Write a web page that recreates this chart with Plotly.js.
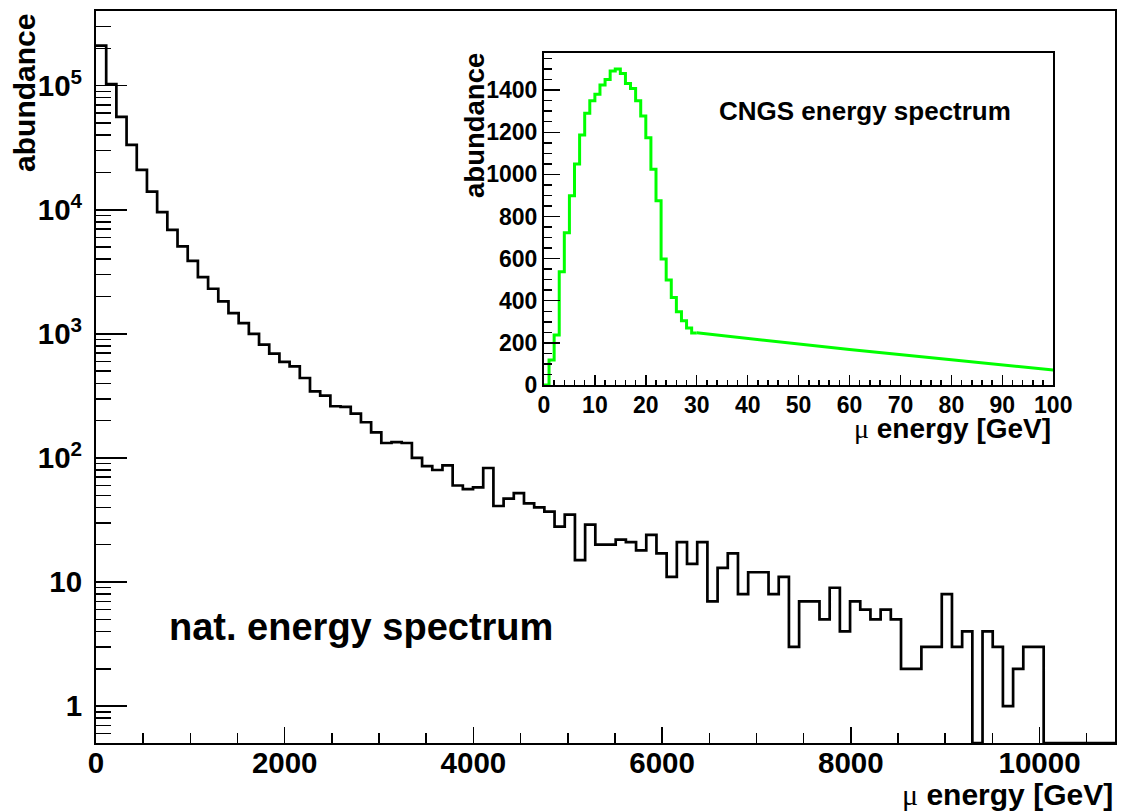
<!DOCTYPE html>
<html>
<head>
<meta charset="utf-8">
<script src="https://cdn.plot.ly/plotly-3.0.1.min.js"></script>
<style>html,body{margin:0;padding:0;background:#fff;}</style>
</head>
<body>
<div id="chart" style="width:1121px;height:812px;"></div>
<script>
// ---- natural muon energy spectrum (main, log y), 100 bins from 0 to 10800 GeV ----
const natBinLow = 0;
const natBinHigh = 10800;
const natCounts = [
  210000, 103000, 56000, 33300, 21000, 14000, 9570, 6900, 5070, 3880,
  2870, 2310, 1830, 1470, 1220, 1000, 818, 693, 594, 547,
  441, 344, 318, 261, 258, 228, 194, 161, 132, 134,
  132, 100, 86, 80, 87, 60, 56, 58, 83, 41,
  47, 52, 43, 40, 37, 28, 35, 15, 29, 20,
  20, 22, 21, 18, 24, 17, 11, 21, 14, 21,
  7, 13, 17, 8, 12, 12, 8, 11, 3, 7,
  7, 5, 9, 4, 7, 6, 5, 6, 5, 2,
  2, 3, 3, 8, 3, 4, 0, 4, 3, 1,
  2, 3, 3, 0, 0, 0, 0, 0, 0, 0
];
const natXTicks = [0, 2000, 4000, 6000, 8000, 10000];
const natYTicks = [1, 10, 100, 1000, 10000, 100000];
const natYTickText = ['1', '10', '10<sup>2</sup>', '10<sup>3</sup>', '10<sup>4</sup>', '10<sup>5</sup>'];

// ---- CNGS energy spectrum (inset), 1 GeV bins from 0 to 30 GeV, then a falling tail ----
const cngsBinLow = 0;
const cngsBinWidth = 1;
const cngsCounts = [
  0, 119, 237, 538, 723, 899, 1049, 1187, 1290, 1350,
  1381, 1424, 1451, 1491, 1500, 1479, 1432, 1408, 1350, 1277,
  1174, 1024, 875, 598, 498, 416, 348, 305, 270, 247
];
const cngsTailEnergy = [30, 40, 60, 80, 100];
const cngsTailCounts = [248, 222, 168, 120, 71];

// ---- build step outlines ----
const natRangeLog = [-0.297, 5.602];
const natFloor = Math.pow(10, natRangeLog[0]);
const natWidth = (natBinHigh - natBinLow) / natCounts.length;
const natX = natCounts.map((c, i) => natBinLow + i * natWidth).concat([natBinHigh]);
const natYplot = natCounts.map(c => (c > 0 ? c : natFloor));
const natY = natYplot.concat([natYplot[natYplot.length - 1]]);

const cngsX = cngsCounts.map((c, i) => cngsBinLow + i * cngsBinWidth)
  .concat([cngsBinLow + cngsCounts.length * cngsBinWidth]);
const cngsY = cngsCounts.concat([cngsCounts[cngsCounts.length - 1]]);

const FONT = 'Liberation Sans, Arial, Helvetica, sans-serif';
const MU = '<span style="font-family:Liberation Serif;font-weight:normal">μ</span>';

const traces = [
  {x: natX, y: natY, type: 'scatter', mode: 'lines', line: {shape: 'hv', color: '#000', width: 2.7},
   xaxis: 'x', yaxis: 'y', hoverinfo: 'skip', cliponaxis: true},
  {x: cngsX, y: cngsY, type: 'scatter', mode: 'lines', line: {shape: 'hv', color: '#00ff00', width: 3},
   xaxis: 'x2', yaxis: 'y2', hoverinfo: 'skip'},
  {x: cngsTailEnergy, y: cngsTailCounts, type: 'scatter', mode: 'lines', line: {color: '#00ff00', width: 3},
   xaxis: 'x2', yaxis: 'y2', hoverinfo: 'skip'}
];

const tickCommon = {ticks: 'inside', tickcolor: '#000', tickwidth: 1.5, showline: true, linecolor: '#000',
  linewidth: 2, mirror: true, showgrid: false, zeroline: false};

const layout = {
  width: 1121, height: 812,
  margin: {l: 96, r: 6, t: 11, b: 69, pad: 0},
  paper_bgcolor: '#fff', plot_bgcolor: '#fff',
  showlegend: false,
  font: {family: FONT, color: '#000'},
  xaxis: Object.assign({}, tickCommon, {
    domain: [0, 1], anchor: 'y', range: [natBinLow, natBinHigh],
    tickmode: 'array', tickvals: natXTicks, ticktext: natXTicks.map(String), ticklen: 16,
    minor: {tickmode: 'linear', tick0: 0, dtick: 500, ticks: 'inside', ticklen: 10, tickwidth: 1.5, tickcolor: '#000', showgrid: false},
    tickfont: {family: FONT, size: 29.5, weight: 'bold', color: '#000'}, ticklabelstandoff: -7
  }),
  yaxis: Object.assign({}, tickCommon, {
    domain: [0, 1], anchor: 'x', type: 'log', range: natRangeLog,
    tickmode: 'array', tickvals: natYTicks, ticktext: natYTickText, ticklen: 31,
    minor: {dtick: 'D1', ticks: 'inside', ticklen: 15, tickwidth: 1.5, tickcolor: '#000', showgrid: false},
    tickfont: {family: FONT, size: 29.5, weight: 'bold', color: '#000'}, ticklabelstandoff: 6
  }),
  xaxis2: Object.assign({}, tickCommon, {
    domain: [0.4396, 0.9394], anchor: 'y2', range: [0, 100],
    tickmode: 'linear', tick0: 0, dtick: 10, ticklen: 10,
    minor: {tickmode: 'linear', tick0: 0, dtick: 2, ticks: 'inside', ticklen: 5, tickwidth: 1.5, tickcolor: '#000', showgrid: false},
    tickfont: {family: FONT, size: 23, weight: 'bold', color: '#000'}, ticklabelstandoff: -2
  }),
  yaxis2: Object.assign({}, tickCommon, {
    domain: [0.4891, 0.9422], anchor: 'x2', range: [0, 1575],
    tickmode: 'linear', tick0: 0, dtick: 200, ticklen: 16,
    minor: {tickmode: 'linear', tick0: 0, dtick: 50, ticks: 'inside', ticklen: 8, tickwidth: 1.5, tickcolor: '#000', showgrid: false},
    tickfont: {family: FONT, size: 23, weight: 'bold', color: '#000'}, ticklabelstandoff: 0
  }),
  annotations: [
    {text: MU + ' energy [GeV]', xref: 'paper', yref: 'paper', x: 1.0, y: -0.0697, xanchor: 'right', yanchor: 'middle',
     showarrow: false, font: {family: FONT, size: 30, weight: 'bold', color: '#000'}},
    {text: 'abundance', xref: 'paper', yref: 'paper', x: -0.0697, y: 0.888, xanchor: 'center', yanchor: 'middle',
     textangle: -90, showarrow: false, font: {family: FONT, size: 30, weight: 'bold', color: '#000'}},
    {text: 'nat. energy spectrum', xref: 'paper', yref: 'paper', x: 0.0697, y: 0.1585, xanchor: 'left', yanchor: 'middle',
     showarrow: false, font: {family: FONT, size: 38, weight: 'bold', color: '#000'}},
    {text: 'CNGS energy spectrum', xref: 'paper', yref: 'paper', x: 0.7547, y: 0.8634, xanchor: 'center', yanchor: 'middle',
     showarrow: false, font: {family: FONT, size: 26, weight: 'bold', color: '#000'}},
    {text: MU + ' energy [GeV]', xref: 'paper', yref: 'paper', x: 0.9394, y: 0.429, xanchor: 'right', yanchor: 'middle',
     showarrow: false, font: {family: FONT, size: 28, weight: 'bold', color: '#000'}},
    {text: 'abundance', xref: 'paper', yref: 'paper', x: 0.3719, y: 0.8443, xanchor: 'center', yanchor: 'middle',
     textangle: -90, showarrow: false, font: {family: FONT, size: 27.5, weight: 'bold', color: '#000'}}
  ]
};

Plotly.newPlot('chart', traces, layout, {displayModeBar: false, staticPlot: true});
</script>
</body>
</html>
